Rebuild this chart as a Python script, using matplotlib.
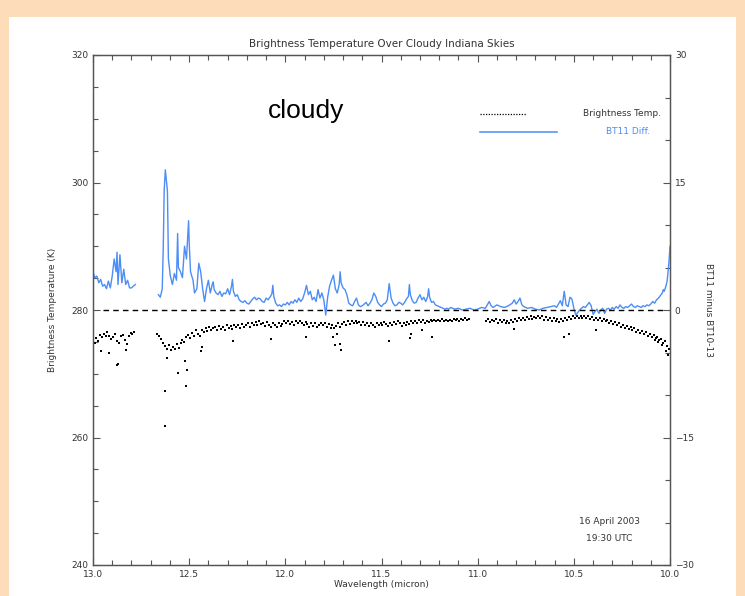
#!/usr/bin/env python3
import numpy as np
import matplotlib
import matplotlib.pyplot as plt
from matplotlib.ticker import MultipleLocator, FixedLocator
from matplotlib.patches import Rectangle

##brightness temperature dots (micron, K)
bt_wave = [13.00, 12.99, 12.985, 12.975, 12.965, 12.955, 12.945, 12.935, 12.925, 12.915,
           12.905, 12.895, 12.885, 12.875, 12.865, 12.855, 12.845, 12.835, 12.825, 12.815,
           12.805, 12.795, 12.785,
           12.665, 12.655, 12.645, 12.635, 12.625, 12.615, 12.605, 12.595, 12.585, 12.575,
           12.565, 12.555, 12.545, 12.535, 12.525, 12.515, 12.505, 12.495, 12.485, 12.475,
           12.465, 12.455, 12.445, 12.435, 12.425, 12.415, 12.405, 12.395, 12.385, 12.375,
           12.365, 12.355, 12.345, 12.335, 12.325, 12.315, 12.305, 12.295, 12.285, 12.275,
           12.265, 12.255, 12.245, 12.235, 12.225, 12.215, 12.205, 12.195, 12.185, 12.175,
           12.165, 12.155, 12.145, 12.135, 12.125, 12.115, 12.105, 12.095, 12.085, 12.075,
           12.065, 12.055, 12.045, 12.035, 12.025, 12.015, 12.005, 11.995, 11.985, 11.975,
           11.965, 11.955, 11.945, 11.935, 11.925, 11.915, 11.905, 11.895, 11.885, 11.875,
           11.865, 11.855, 11.845, 11.835, 11.825, 11.815, 11.805, 11.795, 11.785, 11.775,
           11.765, 11.755, 11.745, 11.735, 11.725, 11.715, 11.705, 11.695, 11.685, 11.675,
           11.665, 11.655, 11.645, 11.635, 11.625, 11.615, 11.605, 11.595, 11.585, 11.575,
           11.565, 11.555, 11.545, 11.535, 11.525, 11.515, 11.505, 11.495, 11.485, 11.475,
           11.465, 11.455, 11.445, 11.435, 11.425, 11.415, 11.405, 11.395, 11.385, 11.375,
           11.365, 11.355, 11.345, 11.335, 11.325, 11.315, 11.305, 11.295, 11.285, 11.275,
           11.265, 11.255, 11.245, 11.235, 11.225, 11.215, 11.205, 11.195, 11.185, 11.175,
           11.165, 11.155, 11.145, 11.135, 11.125, 11.115, 11.105, 11.095, 11.085, 11.075,
           11.065, 11.055, 11.045,
           10.955, 10.945, 10.935, 10.925, 10.915, 10.905, 10.895, 10.885, 10.875, 10.865,
           10.855, 10.845, 10.835, 10.825, 10.815, 10.805, 10.795, 10.785, 10.775, 10.765,
           10.755, 10.745, 10.735, 10.725, 10.715, 10.705, 10.695, 10.685, 10.675, 10.665,
           10.655, 10.645, 10.635, 10.625, 10.615, 10.605, 10.595, 10.585, 10.575, 10.565,
           10.555, 10.545, 10.535, 10.525, 10.515, 10.505, 10.495, 10.485, 10.475, 10.465,
           10.455, 10.445, 10.435, 10.425, 10.415, 10.405, 10.395, 10.385, 10.375, 10.365,
           10.355, 10.345, 10.335, 10.325, 10.315, 10.305, 10.295, 10.285, 10.275, 10.265,
           10.255, 10.245, 10.235, 10.225, 10.215, 10.205, 10.195, 10.185, 10.175, 10.165,
           10.155, 10.145, 10.135, 10.125, 10.115, 10.105, 10.095, 10.085, 10.075, 10.065,
           10.055, 10.045, 10.035, 10.025, 10.015, 10.005]
bt_temp = [274.3, 274.9, 275.6, 275.2, 276.1, 275.7, 276.3, 275.9, 276.5, 276.0,
           275.4, 275.8, 276.2, 275.1, 274.8, 275.9, 276.1, 275.3, 274.6, 276.0,
           276.4, 276.2, 276.5,
           276.3, 275.9, 275.4, 274.8, 274.3, 273.9, 274.5, 273.8, 274.2, 273.9,
           274.6, 274.1, 274.9, 275.3, 275.0, 275.8, 276.1, 275.6, 276.4, 276.0,
           276.8, 276.3, 275.9, 276.9, 276.5, 277.2, 276.7, 277.3, 276.8, 277.1,
           277.4, 276.9, 277.5, 277.0, 277.3, 276.9, 277.6, 277.2, 277.5, 277.0,
           277.7, 277.3, 277.6, 277.1, 277.8, 277.4, 277.7, 277.9, 277.4, 278.0,
           277.6, 278.1, 277.7, 278.2, 277.8, 278.0, 277.5, 278.1, 277.7, 277.4,
           278.0, 277.6, 277.3, 277.9, 277.5, 277.8, 278.2, 277.9, 278.3, 277.8,
           278.1, 277.7, 278.2, 277.9, 278.3, 278.0, 277.7, 278.1, 277.8, 277.4,
           277.9, 277.5, 277.9, 277.3, 277.7, 278.0, 277.6, 278.0, 277.4, 277.8,
           277.2, 277.6, 277.1, 277.5, 277.9, 277.4, 277.8, 278.1, 277.7, 278.2,
           277.8, 278.3, 277.9, 278.3, 278.0, 278.1, 277.7, 278.1, 277.6, 277.9,
           277.5, 278.0, 277.7, 277.4, 277.9, 277.6, 278.0, 277.7, 278.1, 277.8,
           277.5, 278.0, 277.7, 278.1, 277.8, 278.2, 277.9, 277.5, 278.0, 277.7,
           278.1, 277.8, 278.2, 277.9, 278.3, 278.0, 278.4, 278.1, 278.4, 278.0,
           278.3, 278.1, 278.4, 278.2, 278.5, 278.2, 278.5, 278.3, 278.6, 278.3,
           278.5, 278.2, 278.5, 278.3, 278.6, 278.4, 278.6, 278.3, 278.6, 278.4,
           278.7, 278.4, 278.6,
           278.3, 278.6, 278.1, 278.5, 278.2, 278.6, 278.0, 278.4, 278.1, 278.5,
           277.9, 278.3, 278.0, 278.5, 278.1, 278.6, 278.3, 278.7, 278.4, 278.8,
           278.5, 278.9, 278.6, 279.0, 278.6, 278.9, 278.7, 279.1, 278.8, 279.0,
           278.5, 278.9, 278.4, 278.8, 278.3, 278.7, 278.2, 278.6, 278.1, 278.6,
           278.3, 278.8, 278.4, 278.9, 278.6, 279.0, 278.7, 279.1, 278.7, 279.0,
           278.8, 279.1, 278.7, 279.0, 278.6, 278.9, 278.5, 278.8, 278.4, 278.7,
           278.3, 278.6, 278.2, 278.5, 278.0, 278.3, 277.8, 278.1, 277.6, 277.9,
           277.4, 277.7, 277.2, 277.5, 277.0, 277.3, 276.8, 277.1, 276.6, 276.9,
           276.4, 276.7, 276.2, 276.5, 276.0, 276.3, 275.8, 276.1, 275.6, 275.8,
           275.3, 275.5, 274.9, 275.1, 274.4, 273.9]

##scattered cold outliers (micron, K)
out_wave = [12.96, 12.915, 12.875, 12.87, 12.83, 12.625, 12.625, 12.615, 12.56, 12.52,
            12.515, 12.51, 12.44, 12.435, 12.27, 12.075, 11.89, 11.75, 11.74, 11.73,
            11.71, 11.715, 11.46, 11.35, 11.345, 11.29, 11.24, 10.81, 10.55, 10.525,
            10.385, 10.08, 10.06, 10.04, 10.02, 10.01]
out_temp = [273.6, 273.2, 271.3, 271.5, 273.8, 267.3, 261.8, 272.5, 270.1, 272.0,
            268.1, 270.6, 273.6, 274.2, 275.1, 275.5, 275.7, 275.8, 274.5, 276.3,
            273.8, 274.6, 275.2, 275.6, 276.2, 276.8, 275.8, 277.0, 275.8, 276.2,
            276.9, 275.3, 275.0, 274.5, 273.5, 273.0]

##BT11 minus BT10-13 (micron, K); NaN marks the data gap
diff_wave = [13.00, 12.99, 12.98, 12.97, 12.96, 12.95, 12.94, 12.93, 12.92, 12.91,
             12.90, 12.89, 12.88, 12.875, 12.87, 12.86, 12.85, 12.84, 12.83, 12.82,
             12.81, 12.80, 12.79, 12.78, 12.72,
             12.66, 12.65, 12.64, 12.635, 12.63, 12.624, 12.613, 12.608, 12.598, 12.587,
             12.577, 12.566, 12.56, 12.556, 12.545, 12.535, 12.524, 12.514, 12.503, 12.50,
             12.493, 12.48, 12.472, 12.46, 12.45, 12.44, 12.43, 12.42, 12.41, 12.40,
             12.39, 12.38, 12.375, 12.37, 12.36, 12.35, 12.34, 12.33, 12.32, 12.31,
             12.30, 12.29, 12.28, 12.275, 12.27, 12.26, 12.25, 12.24, 12.23, 12.22,
             12.21, 12.20, 12.19, 12.18, 12.17, 12.16, 12.15, 12.14, 12.13, 12.12,
             12.11, 12.10, 12.09, 12.08, 12.07, 12.065, 12.06, 12.05, 12.04, 12.03,
             12.02, 12.01, 12.00, 11.99, 11.98, 11.97, 11.96, 11.95, 11.94, 11.93,
             11.92, 11.91, 11.90, 11.89, 11.88, 11.87, 11.86, 11.85, 11.84, 11.83,
             11.82, 11.81, 11.80, 11.79, 11.78, 11.77, 11.76, 11.75, 11.74, 11.73,
             11.72, 11.715, 11.71, 11.70, 11.69, 11.68, 11.67, 11.66, 11.65, 11.64,
             11.63, 11.62, 11.61, 11.60, 11.59, 11.58, 11.57, 11.56, 11.55, 11.54,
             11.53, 11.52, 11.51, 11.50, 11.49, 11.48, 11.47, 11.46, 11.45, 11.44,
             11.43, 11.42, 11.41, 11.40, 11.39, 11.38, 11.37, 11.36, 11.355, 11.35,
             11.34, 11.33, 11.32, 11.31, 11.30, 11.29, 11.28, 11.27, 11.26, 11.255,
             11.25, 11.24, 11.23, 11.22, 11.21, 11.20, 11.19, 11.18, 11.17, 11.16,
             11.15, 11.14, 11.13, 11.12, 11.10, 11.08, 11.06, 11.04, 11.02, 11.00,
             10.98, 10.96, 10.95, 10.94, 10.93, 10.92, 10.90, 10.88, 10.86, 10.84,
             10.82, 10.81, 10.80, 10.79, 10.78, 10.77, 10.76, 10.74, 10.72, 10.70,
             10.68, 10.66, 10.64, 10.62, 10.60, 10.59, 10.58, 10.57, 10.56, 10.55,
             10.54, 10.53, 10.52, 10.51, 10.50, 10.49, 10.48, 10.47, 10.46, 10.45,
             10.44, 10.43, 10.42, 10.41, 10.40, 10.39, 10.38, 10.37, 10.36, 10.35,
             10.34, 10.33, 10.32, 10.31, 10.30, 10.29, 10.28, 10.27, 10.26, 10.25,
             10.24, 10.23, 10.22, 10.21, 10.20, 10.19, 10.18, 10.17, 10.16, 10.15,
             10.14, 10.13, 10.12, 10.11, 10.10, 10.09, 10.08, 10.07, 10.06, 10.05,
             10.04, 10.035, 10.03, 10.02, 10.015, 10.01, 10.005, 10.00]
diff_val = [4.5, 3.8, 4.0, 3.2, 3.6, 2.8, 3.0, 2.5, 3.4, 2.6,
            4.0, 6.0, 4.5, 6.8, 3.0, 6.5, 3.2, 4.8, 3.0, 3.5,
            2.6, 2.6, 2.8, 3.0, np.nan,
            1.8, 1.5, 2.5, 7.0, 14.0, 16.5, 14.0, 6.0, 4.0, 3.0,
            4.3, 3.5, 9.0, 5.0, 4.5, 3.8, 7.5, 6.0, 10.5, 8.0,
            4.5, 3.5, 2.0, 2.5, 5.5, 4.5, 2.5, 1.0, 2.5, 3.5,
            2.0, 3.0, 3.3, 2.4, 2.0, 1.8, 2.2, 1.6, 2.0, 1.9,
            2.5, 1.8, 2.8, 3.6, 2.2, 1.6, 1.8, 1.2, 1.0, 0.9,
            1.1, 0.8, 0.7, 1.0, 1.3, 1.5, 1.2, 1.4, 1.3, 1.0,
            0.9, 1.4, 1.2, 1.5, 1.9, 2.9, 1.6, 0.8, 0.5, 0.6,
            0.4, 0.7, 0.6, 0.9, 0.6, 1.0, 0.8, 1.2, 0.9, 1.4,
            1.0, 1.3, 2.0, 2.9, 1.8, 2.2, 1.2, 1.5, 1.0, 2.4,
            1.4, 2.0, 1.2, -0.6, 1.5, 2.8, 3.5, 4.1, 2.5, 2.0,
            3.0, 4.5, 3.2, 2.6, 2.4, 1.8, 0.8, 0.6, 0.5, 1.0,
            1.4, 0.6, 0.4, 0.5, 0.7, 0.9, 0.5, 0.8, 1.2, 2.0,
            1.6, 0.9, 0.6, 0.4, 0.7, 0.8, 1.2, 3.1, 1.4, 0.8,
            0.5, 0.6, 0.9, 0.8, 0.6, 0.9, 1.3, 1.6, 3.0, 1.8,
            1.1, 0.8, 0.9, 1.4, 1.8, 1.2, 1.5, 1.0, 1.6, 2.5,
            1.5, 0.9, 1.0, 0.6, 0.5, 0.4, 0.3, 0.2, 0.1, 0.2,
            0.1, 0.3, 0.2, 0.1, 0.2, 0.0, 0.1, 0.2, 0.0, 0.1,
            0.3, 0.2, 0.6, 1.0, 0.5, 0.3, 0.6, 0.4, 0.3, 0.5,
            0.8, 1.2, 0.7, 1.0, 1.4, 0.6, 0.4, 0.2, 0.3, 0.1,
            0.0, 0.2, 0.3, 0.4, 0.5, 0.3, 0.7, 1.1, 0.5, 2.2,
            0.6, 0.4, 1.5, 1.3, 0.2, -0.6, -0.3, 0.0, 0.2, 0.4,
            0.3, 0.6, 0.9, 0.5, -0.5, -0.2, 0.1, -0.4, 0.0, 0.2,
            -0.4, 0.1, 0.2, 0.0, 0.3, 0.1, 0.4, 0.2, 0.6, 0.3,
            0.2, 0.4, 0.3, 0.5, 0.7, 0.4, 0.3, 0.5, 0.4, 0.3,
            0.5, 0.4, 0.6, 0.5, 0.7, 1.0, 0.8, 1.2, 1.4, 1.7,
            2.0, 2.4, 2.2, 2.9, 3.4, 4.5, 5.8, 7.5]

date_lines = ["16 April 2003", "19:30 UTC"]

peach = '#FDDDB9'
blue = '#4C8DF6'
txt = '#333333'

plt.rcParams['font.family'] = ['DejaVu Sans']
fig = plt.figure(figsize=(7.45, 5.96), dpi=100, facecolor=peach)
fig.patches.append(Rectangle((9/745, 0), 727/745, 1-17/596, transform=fig.transFigure,
                             facecolor='white', edgecolor='none', zorder=-1))

ax = fig.add_axes([93/745, 1-565/596, 577/745, 510/596])
ax.set_facecolor('none')
ax2 = ax.twinx()

ax.plot(bt_wave, bt_temp, 's', color='k', ms=2.0, mew=0)
ax.plot(out_wave, out_temp, 's', color='k', ms=2.0, mew=0)
ax2.plot(diff_wave, diff_val, '-', color=blue, lw=1.0)
ax2.plot([12.95, 10.03], [0, 0], '--', color='k', lw=1.0, dashes=(4, 3))

ax.set_xlim(13.0, 10.0)
ax.set_ylim(240, 320)
ax2.set_ylim(-30, 30)

ax.xaxis.set_major_locator(MultipleLocator(0.5))
ax.xaxis.set_minor_locator(MultipleLocator(0.1))
ax.yaxis.set_major_locator(MultipleLocator(20))
ax.yaxis.set_minor_locator(MultipleLocator(5))
ax2.yaxis.set_major_locator(FixedLocator([-30, -15, 0, 15, 30]))
ax2.yaxis.set_minor_locator(FixedLocator([-25, -20, -10, -5, 5, 10, 20, 25]))
ax.xaxis.set_major_formatter(matplotlib.ticker.FormatStrFormatter('%.1f'))

for a in (ax, ax2):
    for s in a.spines.values():
        s.set_color('#555555')
        s.set_linewidth(0.9)
ax.tick_params(which='both', direction='in', top=True, labelsize=6.5, colors='#555555',
               labelcolor=txt, width=0.8)
ax.tick_params(which='major', length=5)
ax.tick_params(which='minor', length=3.5)
ax.tick_params(axis='y', which='both', right=False)
ax2.tick_params(which='both', direction='in', labelsize=6.5, colors='#555555',
                labelcolor=txt, width=0.8)
ax2.tick_params(which='major', length=5)
ax2.tick_params(which='minor', length=3.5)

ax.set_xlabel('Wavelength (micron)', fontsize=6.5, color=txt, labelpad=1)
ax.set_ylabel('Brightness Temperature (K)', fontsize=6.5, color=txt, labelpad=10)
ax2.set_ylabel('BT11 minus BT10-13', fontsize=6.5, color=txt, rotation=270, labelpad=14)
ax.set_title('Brightness Temperature Over Cloudy Indiana Skies', fontsize=7.5,
             color=txt, pad=6)

ax.text(0.37, 0.89, 'cloudy', transform=ax.transAxes, ha='center', va='center',
        fontsize=19, family='Liberation Sans', color='black')

# legend drawn IDL-style
ax.plot([0.67, 0.75], [0.885, 0.885], transform=ax.transAxes, color='k', lw=0.9,
        ls=(0, (1, 1.2)))
ax.text(0.985, 0.885, 'Brightness Temp.', transform=ax.transAxes, ha='right',
        va='center', fontsize=6.5, color=txt)
ax.plot([0.67, 0.805], [0.85, 0.85], transform=ax.transAxes, color=blue, lw=1.1)
ax.text(0.965, 0.85, 'BT11 Diff.', transform=ax.transAxes, ha='right',
        va='center', fontsize=6.5, color=blue)

ax.text(0.895, 0.085, date_lines[0], transform=ax.transAxes, ha='center',
        va='center', fontsize=6.5, color=txt)
ax.text(0.895, 0.052, date_lines[1], transform=ax.transAxes, ha='center',
        va='center', fontsize=6.5, color=txt)

plt.savefig('out.png', dpi=100, facecolor=peach)
plt.close()
